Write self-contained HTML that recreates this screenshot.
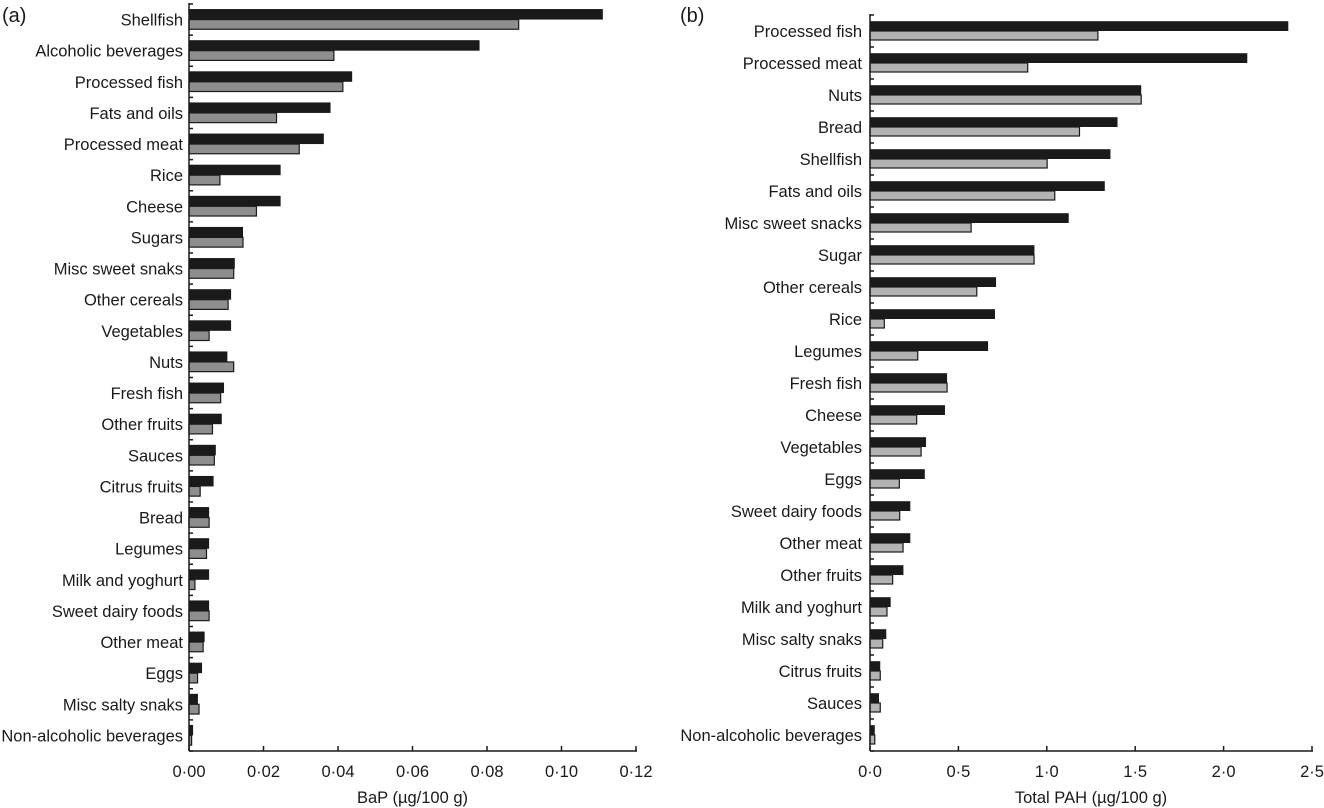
<!DOCTYPE html>
<html><head><meta charset="utf-8"><style>
html,body{margin:0;padding:0;background:#fff;}
svg{display:block;font-family:"Liberation Sans",Arial,sans-serif;}
</style></head><body>
<svg id="chart" width="1324" height="808" viewBox="0 0 1324 808" xmlns="http://www.w3.org/2000/svg"></svg>
<script>
const catsA=["Shellfish","Alcoholic beverages","Processed fish","Fats and oils","Processed meat","Rice","Cheese","Sugars","Misc sweet snaks","Other cereals","Vegetables","Nuts","Fresh fish","Other fruits","Sauces","Citrus fruits","Bread","Legumes","Milk and yoghurt","Sweet dairy foods","Other meat","Eggs","Misc salty snaks","Non-alcoholic beverages"];
const darkA=[0.1111,0.078,0.0438,0.038,0.0362,0.0246,0.0246,0.0145,0.0123,0.0113,0.0113,0.0103,0.0094,0.0088,0.0072,0.0066,0.0054,0.0054,0.0054,0.0054,0.0042,0.0035,0.0024,0.0011];
const greyA=[0.0885,0.0389,0.0413,0.0235,0.0296,0.0083,0.0181,0.0145,0.012,0.0105,0.0054,0.012,0.0085,0.0063,0.0068,0.003,0.0054,0.0047,0.0016,0.0054,0.0038,0.0023,0.0027,0.0007];
const ticksA=[0,0.02,0.04,0.06,0.08,0.10,0.12];
const tickLabelsA=["0·00","0·02","0·04","0·06","0·08","0·10","0·12"];
const catsB=["Processed fish","Processed meat","Nuts","Bread","Shellfish","Fats and oils","Misc sweet snacks","Sugar","Other cereals","Rice","Legumes","Fresh fish","Cheese","Vegetables","Eggs","Sweet dairy foods","Other meat","Other fruits","Milk and yoghurt","Misc salty snaks","Citrus fruits","Sauces","Non-alcoholic beverages"];
const darkB=[2.366,2.134,1.534,1.40,1.36,1.328,1.124,0.93,0.713,0.707,0.668,0.436,0.424,0.317,0.31,0.228,0.228,0.189,0.117,0.092,0.058,0.051,0.027];
const greyB=[1.289,0.892,1.534,1.185,1.002,1.045,0.572,0.928,0.604,0.081,0.27,0.436,0.264,0.289,0.166,0.168,0.187,0.128,0.096,0.072,0.058,0.058,0.027];
const ticksB=[0,0.5,1,1.5,2,2.5];
const tickLabelsB=["0·0","0·5","1·0","1·5","2·0","2·5"];

const svg=document.getElementById('chart');
const NS='http://www.w3.org/2000/svg';
function mk(tag,attrs,parent){const e=document.createElementNS(NS,tag);for(const k in attrs)e.setAttribute(k,attrs[k]);(parent||svg).appendChild(e);return e;}
const FS=16.5;
function panel(p){
  const g=mk('g',{});
  
  
  const x=v=>p.x0+(v/p.max)*(p.x1-p.x0);
  const n=p.cats.length;
  const step=(p.yb-p.yt)/n;
  const y=i=>p.yt+i*step;
  p.cats.forEach((c,i)=>{
    const top=y(i)+(step-2*p.bh)/2;
    const d=mk('rect',{x:p.x0,y:top,width:Math.max(0,x(p.dark[i])-p.x0),height:p.bh,fill:'#1a1a1a'},g);
    
    
    const r=mk('rect',{x:p.x0,y:top+p.bh,width:Math.max(0,x(p.grey[i])-p.x0),height:p.bh-0.8,fill:p.gcol,stroke:'#1a1a1a','stroke-width':1.2},g);
    
    
    const t=mk('text',{x:p.lx,y:y(i)+step/2+6,'text-anchor':'end','font-size':FS,fill:'#1a1a1a'},g);
    t.textContent=c;
    
    
  });
  for(let i=0;i<=n;i++){mk('line',{x1:p.x0,x2:p.x0+4,y1:y(i),y2:y(i),stroke:'#1a1a1a','stroke-width':1.5},g);}
  const ya=mk('line',{x1:p.x0,x2:p.x0,y1:p.yt-1,y2:p.yb,stroke:'#1a1a1a','stroke-width':1.5},g);
  
  
  const xa=mk('line',{x1:p.x0,x2:x(p.max)+1,y1:p.yb,y2:p.yb,stroke:'#1a1a1a','stroke-width':1.5},g);
  
  
  p.ticks.forEach((v,i)=>{
    mk('line',{x1:x(v),x2:x(v),y1:p.yb,y2:p.yb-5,stroke:'#1a1a1a','stroke-width':1.5},g);
    const t=mk('text',{x:x(v),y:p.yb+26,'text-anchor':'middle','font-size':FS,fill:'#1a1a1a'},g);
    t.textContent=p.tl[i];
    
    
  });
  const tt=mk('text',{x:(p.x0+x(p.max))/2,y:p.yb+52,'text-anchor':'middle','font-size':FS,fill:'#1a1a1a'},g);
  tt.textContent=p.title;
  
  
  const pl=mk('text',{x:p.px,y:22,'font-size':20,fill:'#1a1a1a'},g);
  pl.textContent=p.plabel;
  
  
}
panel({id:'bap',cats:catsA,dark:darkA,grey:greyA,ticks:ticksA,tl:tickLabelsA,max:0.12,x0:189,x1:636,yt:4,yb:751,bh:10.5,gcol:'#8e8e8e',lx:183,title:'BaP (µg/100 g)',plabel:'(a)',px:2});
panel({id:'pah',cats:catsB,dark:darkB,grey:greyB,ticks:ticksB,tl:tickLabelsB,max:2.5,x0:870,x1:1312,yt:15,yb:751,bh:9.8,gcol:'#b3b3b3',lx:862,title:'Total PAH (µg/100 g)',plabel:'(b)',px:680});
</script>
</body></html>
